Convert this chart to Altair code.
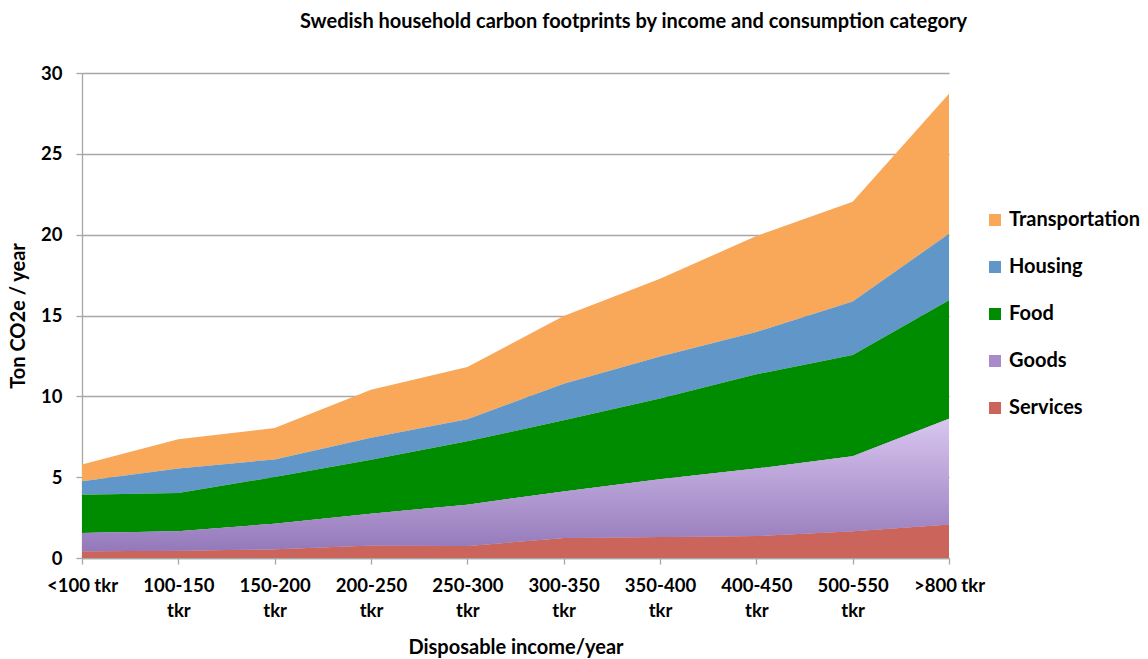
import altair as alt
import pandas as pd

incomes = ["<100 tkr", "100-150 tkr", "150-200 tkr", "200-250 tkr", "250-300 tkr",
           "300-350 tkr", "350-400 tkr", "400-450 tkr", "500-550 tkr", ">800 tkr"]
services = [0.41, 0.45, 0.54, 0.78, 0.74, 1.24, 1.30, 1.36, 1.65, 2.07]
goods = [1.14, 1.20, 1.58, 1.96, 2.56, 2.88, 3.57, 4.17, 4.64, 6.55]
food = [2.37, 2.37, 2.89, 3.34, 3.92, 4.40, 4.99, 5.83, 6.27, 7.32]
housing = [0.82, 1.51, 1.09, 1.36, 1.36, 2.26, 2.61, 2.62, 3.30, 4.12]
transportation = [1.04, 1.81, 1.94, 2.97, 3.23, 4.19, 4.81, 5.93, 6.18, 8.66]

categories = ["Transportation", "Housing", "Food", "Goods", "Services"]
colors = ["#F8A858", "#6096C8", "#008C00", "#A98BCB", "#CB655C"]
series = [transportation, housing, food, goods, services]

rows = []
for rank_from_top, (name, vals) in enumerate(zip(categories, series)):
    for inc, v in zip(incomes, vals):
        rows.append({"income": inc, "category": name, "value": v,
                     "rank": len(categories) - 1 - rank_from_top})
df = pd.DataFrame(rows)

FONT = "Lato"

base = alt.Chart(df).transform_stack(
    stack="value", groupby=["income"], as_=["y0", "y1"],
    sort=[alt.SortField("rank", order="ascending")]
)

x_enc = alt.X(
    "income:O", sort=incomes,
    scale=alt.Scale(type="point", padding=0),
    axis=alt.Axis(
        title="Disposable income/year", labelAngle=0,
        labelExpr="datum.label == '<100 tkr' || datum.label == '>800 tkr' ? datum.label : split(datum.label, ' ')",
        labelPadding=12, titlePadding=18, tickSize=6, labelLineHeight=25,
    ),
)
y_enc = alt.Y(
    "y1:Q", scale=alt.Scale(domain=[0, 30]),
    axis=alt.Axis(title="Ton CO2e / year", values=[0, 5, 10, 15, 20, 25, 30],
                  tickSize=6, labelPadding=14, titlePadding=12),
)

areas = base.mark_area(opacity=1).encode(
    x=x_enc,
    y=y_enc,
    y2="y0:Q",
    color=alt.Color("category:N", scale=alt.Scale(domain=categories, range=colors),
                    legend=alt.Legend(title=None, orient="none", legendX=903, legendY=137,
                                      symbolType="square", symbolSize=144,
                                      labelFontSize=20, labelFont=FONT, labelFontWeight="bold",
                                      labelColor="black",
                                      rowPadding=27, symbolStrokeWidth=0, labelOffset=4)),
    order=alt.Order("rank:Q"),
)

goods_grad = base.transform_filter(alt.datum.category == "Goods").mark_area(
    color=alt.Gradient(gradient="linear", x1=0, y1=1, x2=0, y2=0,
                       stops=[alt.GradientStop(color="#9479BA", offset=0),
                              alt.GradientStop(color="#D9C6F0", offset=1)])
).encode(x=x_enc, y=y_enc, y2="y0:Q")

chart = alt.layer(areas, goods_grad).properties(
    width=867, height=485,
    title=alt.TitleParams("Swedish household carbon footprints by income and consumption category",
                          font=FONT, fontSize=20, fontWeight="bold", anchor="middle",
                          dx=118, offset=32, color="black"),
    padding={"left": 8, "top": 12, "right": 5, "bottom": 5},
).configure_view(stroke=None).configure_axis(
    labelFont=FONT, titleFont=FONT, labelFontWeight="bold", titleFontWeight="bold",
    labelColor="black", titleColor="black", labelFontSize=18.5, titleFontSize=20,
    gridColor="#A6A6A6", gridWidth=1.3, domainColor="#A6A6A6", domainWidth=1.3,
    tickColor="#A6A6A6", tickWidth=1.3,
)

chart.save("out.html", embed_options={"renderer": "svg", "actions": False})
